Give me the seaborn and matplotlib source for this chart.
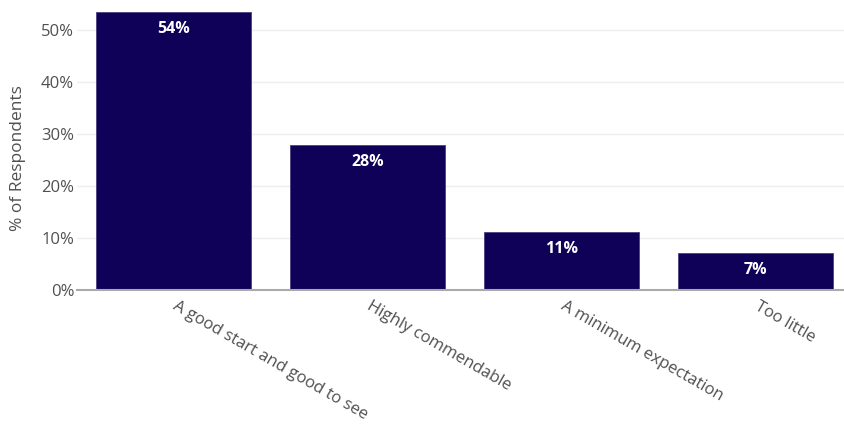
import matplotlib
matplotlib.use("Agg")
import matplotlib.pyplot as plt
import seaborn as sns
import pandas as pd
from matplotlib.ticker import FuncFormatter

categories = ["A good start and good to see", "Highly commendable",
              "A minimum expectation", "Too little"]
shares = [53.5, 27.9, 11.2, 7.2]
y_ticks = [0, 10, 20, 30, 40, 50]

sns.set_theme(style="white")
plt.rcParams["font.family"] = ["Open Sans", "DejaVu Sans"]

df = pd.DataFrame({"response": categories, "share": shares})

fig = plt.figure(figsize=(8.44, 4.25), dpi=100)
ax = fig.add_axes([77 / 844, 1 - 290 / 425, 1 - 77 / 844, 288 / 425])

sns.barplot(data=df, x="response", y="share", color="#0f0058", width=0.8,
            saturation=1, edgecolor="#4a4080", linewidth=0.6, ax=ax)

for i, v in enumerate(shares):
    ax.annotate(f"{v:.0f}%", xy=(i, v), xytext=(0, -12.3),
                textcoords="offset points", ha="center", va="center",
                color="white", fontsize=11.5, fontweight="bold")

ax.set_xlim(-0.5, 3.456)
ax.set_ylim(0, 55.4)
ax.set_yticks(y_ticks)
ax.yaxis.set_major_formatter(FuncFormatter(lambda v, _: f"{v:.0f}%"))
ax.yaxis.grid(True, color="#eeeeee", linewidth=1)
ax.set_axisbelow(True)

for s in ["top", "right", "left"]:
    ax.spines[s].set_visible(False)
ax.spines["bottom"].set_color("#aaaaaa")
ax.spines["bottom"].set_linewidth(1.5)

ax.tick_params(axis="y", length=0, pad=2, labelsize=12, labelcolor="#505050")
ax.tick_params(axis="x", length=0, pad=11, labelsize=12, labelcolor="#505050")
for lab in ax.get_xticklabels():
    lab.set_rotation(-30)
    lab.set_rotation_mode("anchor")
    lab.set_ha("left")
    lab.set_va("center")

ax.set_xlabel("")
ax.set_ylabel("% of Respondents", fontsize=12.5, color="#505050")
ax.yaxis.set_label_coords(-0.066, 0.458)

fig.savefig("out.png", dpi=100)
